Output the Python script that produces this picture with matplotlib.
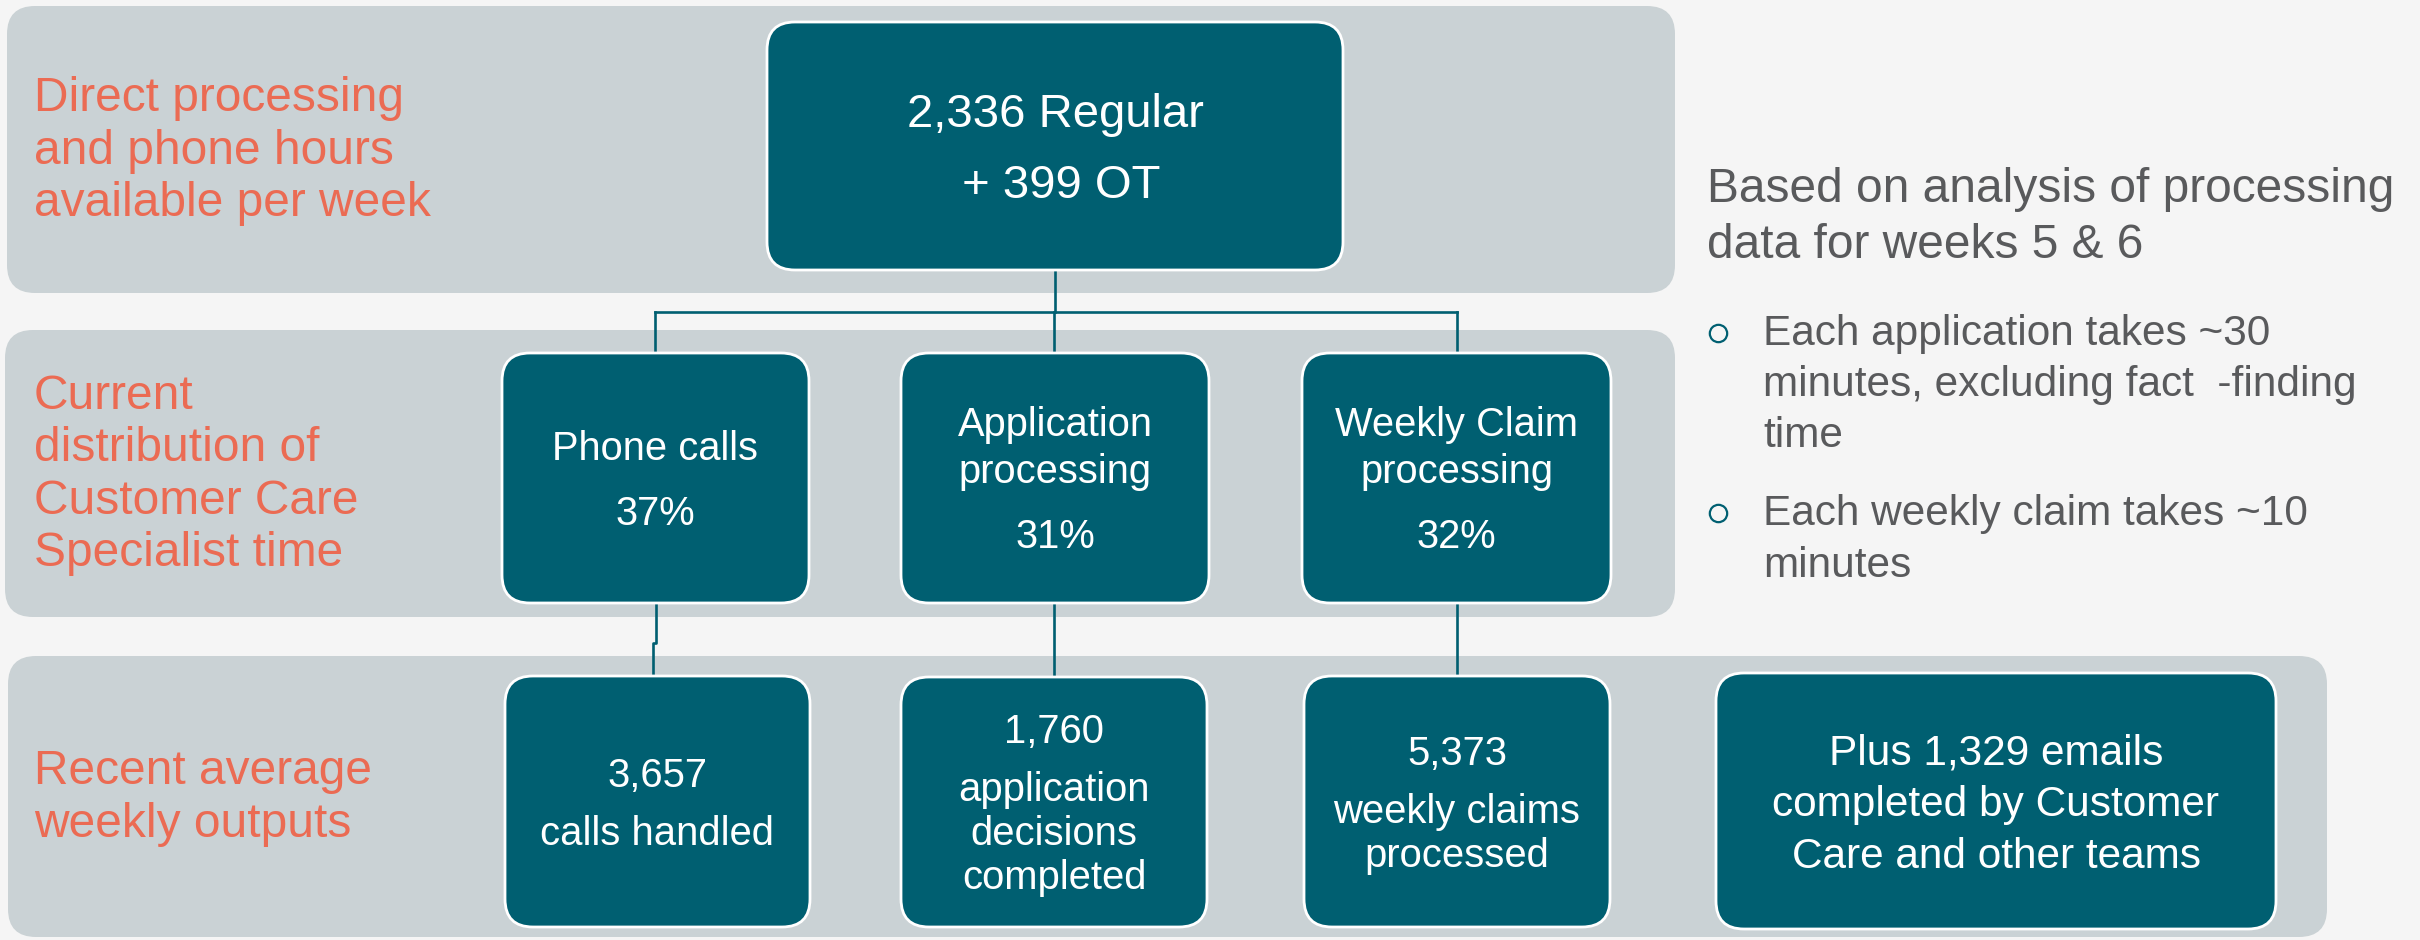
import matplotlib
matplotlib.use("Agg")
import matplotlib.pyplot as plt
from matplotlib.patches import FancyBboxPatch

# ---------------- data ----------------
regular_hours = 2336
ot_hours = 399
activities = [["Phone calls"], ["Application", "processing"], ["Weekly Claim", "processing"]]
shares = [37, 31, 32]
outputs = [3657, 1760, 5373]
output_labels = [["calls handled"], ["application", "decisions", "completed"],
                 ["weekly claims", "processed"]]
emails = 1329
email_text = ["Plus {:,} emails", "completed by Customer", "Care and other teams"]
row_labels = [["Direct processing", "and phone hours", "available per week"],
              ["Current", "distribution of", "Customer Care", "Specialist time"],
              ["Recent average", "weekly outputs"]]
note_title = ["Based on analysis of processing", "data for weeks 5 & 6"]
note_bullets = [["Each application takes ~30", "minutes, excluding fact  -finding", "time"],
                ["Each weekly claim takes ~10", "minutes"]]

# ---------------- style ----------------
BG = "#F5F5F5"
BAND = "#CAD2D5"
TEAL = "#005F71"
CORAL = "#EB6B53"
GREY = "#595A5C"
FONT = ["Liberation Sans", "DejaVu Sans"]

W, H = 2420, 940
fig = plt.figure(figsize=(24.2, 9.4), dpi=100)
fig.patch.set_facecolor(BG)
ax = fig.add_axes([0, 0, 1, 1])
ax.set_xlim(0, W)
ax.set_ylim(H, 0)
ax.axis("off")
ax.set_facecolor(BG)


def rbox(x0, y0, x1, y1, color, r, ec="none", lw=0, z=1):
    p = FancyBboxPatch((x0, y0), x1 - x0, y1 - y0,
                       boxstyle=f"round,pad=0,rounding_size={r}",
                       fc=color, ec=ec, lw=lw, zorder=z)
    ax.add_patch(p)


def block(x, yc, groups, size_pt, pitch, gap, color, ha="center"):
    px = size_pt / 0.72
    cap = 0.716 * px
    baselines, lines = [], []
    y = 0.0
    for g in groups:
        for li, line in enumerate(g):
            if baselines:
                y += gap if li == 0 else pitch
            baselines.append(y)
            lines.append(line)
    top = baselines[0] - cap
    bot = baselines[-1]
    shift = yc - (top + bot) / 2
    for b, line in zip(baselines, lines):
        ax.text(x, b + shift, line, ha=ha, va="baseline", fontsize=size_pt,
                color=color, family=FONT, zorder=5)


# bands
bands = [(7, 6, 1675, 293), (5, 330, 1675, 617), (8, 656, 2327, 937)]
for (x0, y0, x1, y1) in bands:
    rbox(x0, y0, x1, y1, BAND, 28, z=1)

# row labels
for (x0, y0, x1, y1), lab in zip(bands, row_labels):
    block(34, (y0 + y1) / 2 - 3, [lab], 34.5, 52.5, 52.5, CORAL, ha="left")

# connectors
lw = 1.9
top_box = (767, 22, 1343, 270)
mid_x = [655, 1054, 1457]
ax.plot([1055, 1055], [270, 312], color=TEAL, lw=lw, zorder=2)
ax.plot([mid_x[0], mid_x[2]], [312, 312], color=TEAL, lw=lw, zorder=2)
for x in mid_x:
    ax.plot([x, x], [312, 353], color=TEAL, lw=lw, zorder=2)
ax.plot([656, 656, 653, 653], [603, 643, 643, 676], color=TEAL, lw=lw, zorder=2)
for x in mid_x[1:]:
    ax.plot([x, x], [603, 676], color=TEAL, lw=lw, zorder=2)

# top box
rbox(*top_box, TEAL, 28, ec="white", lw=2, z=3)
block((top_box[0] + top_box[2]) / 2, (top_box[1] + top_box[3]) / 2,
      [["{:,} Regular".format(regular_hours)], [" + {:,} OT".format(ot_hours)]],
      34, 71, 71, "white")

# middle boxes
mid_boxes = [(502, 353, 809, 603), (901, 353, 1209, 603), (1302, 353, 1611, 603)]
for b, act, s in zip(mid_boxes, activities, shares):
    rbox(*b, TEAL, 28, ec="white", lw=2, z=3)
    block((b[0] + b[2]) / 2, (b[1] + b[3]) / 2, [act, ["{}%".format(s)]],
          28.7, 47, 65, "white")

# bottom boxes
bot_boxes = [(505, 676, 810, 927), (901, 677, 1207, 927), (1304, 676, 1610, 927)]
for b, v, lab in zip(bot_boxes, outputs, output_labels):
    rbox(*b, TEAL, 28, ec="white", lw=2, z=3)
    block((b[0] + b[2]) / 2, (b[1] + b[3]) / 2, [["{:,}".format(v)], lab],
          28.8, 44, 58, "white")

email_box = (1716, 673, 2276, 929)
rbox(*email_box, TEAL, 28, ec="white", lw=2, z=3)
etext = [email_text[0].format(emails)] + email_text[1:]
block((email_box[0] + email_box[2]) / 2, (email_box[1] + email_box[3]) / 2,
      [etext], 30.5, 51.5, 51.5, "white")

# notes on the right
for yb, line in zip([202, 258], note_title):
    ax.text(1707, yb, line, ha="left", va="baseline", fontsize=34.5, color=GREY,
            family=FONT)
bullet_baselines = [[345, 396, 447], [525, 577]]
for ys, lines in zip(bullet_baselines, note_bullets):
    ax.plot([1718], [ys[0] - 12.5], marker="o", ms=12.5, mfc="none", mec=TEAL,
            mew=1.6, zorder=5)
    for yb, line in zip(ys, lines):
        ax.text(1763, yb, line, ha="left", va="baseline", fontsize=30.5,
                color=GREY, family=FONT)

fig.savefig("out.png", dpi=100, facecolor=BG)
